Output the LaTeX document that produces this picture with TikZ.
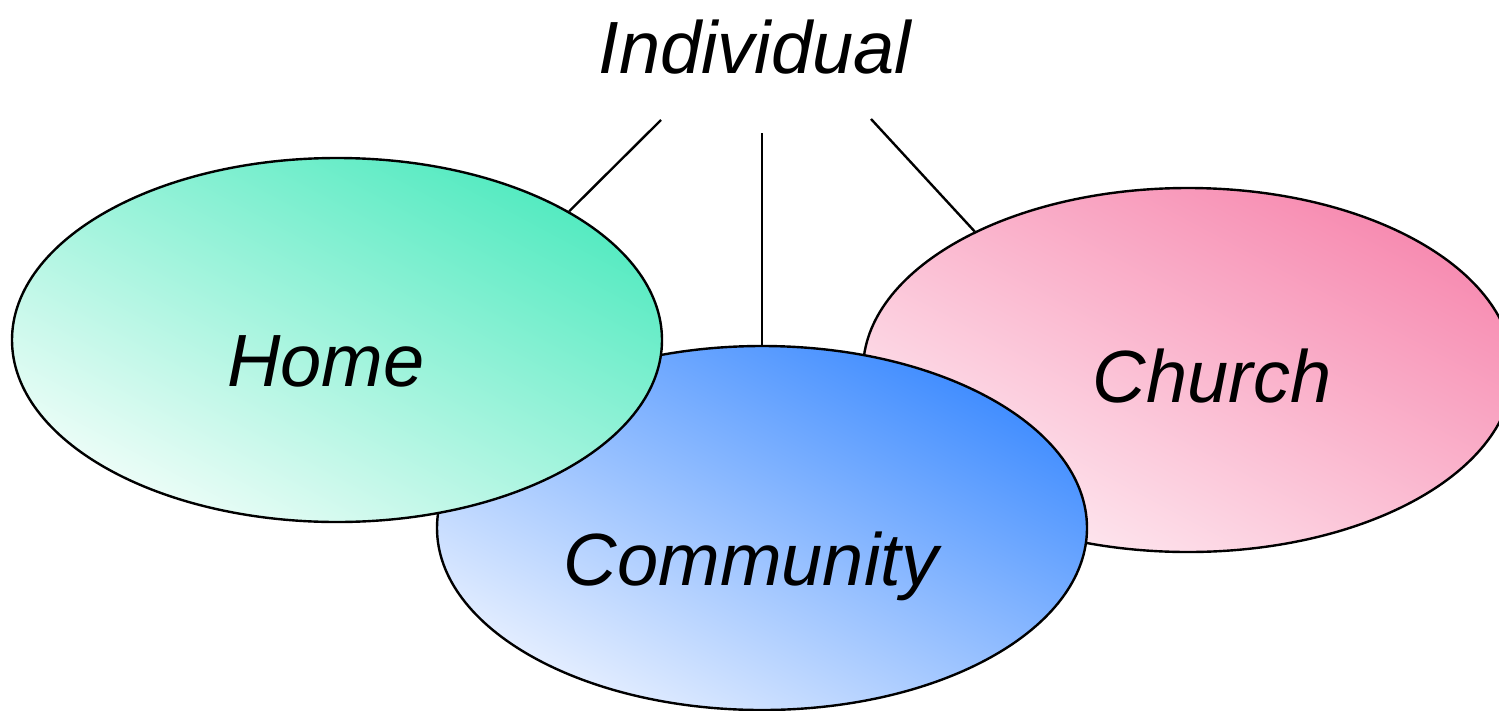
\documentclass[tikz,border=0pt]{standalone}
\usepackage{fontspec}
\setmainfont{Liberation Sans}
\usepackage{tikz}
\usepackage{xcolor}
\usetikzlibrary{shapes.geometric}

\definecolor{homedark}{HTML}{52EAC0}
\definecolor{homelight}{HTML}{EEFDF8}
\definecolor{commdark}{HTML}{3F8CFF}
\definecolor{commlight}{HTML}{E6EFFF}
\definecolor{churchdark}{HTML}{F78AB0}
\definecolor{churchlight}{HTML}{FEEAF1}

\begin{document}
\begin{tikzpicture}[x=1pt, y=-1pt,
  bubble/.style={ellipse, draw, line width=2.4pt, inner sep=0pt,
    minimum width=650pt, minimum height=364pt,
    top color=#1dark, bottom color=#1light, shading angle=-28},
  word/.style={font=\fontsize{74}{88}\selectfont\itshape, inner sep=0pt, anchor=base}]
\useasboundingbox (0,0) rectangle (1499,710);

%Spheres
\node[bubble=church] (church) at (1188,370) {};
\node[bubble=comm] (community) at (762,528) {};
\node[bubble=home] (home) at (337,340) {};

%Links
\coordinate (lhome) at (661,120);
\coordinate (lcomm) at (762,133);
\coordinate (lchurch) at (871,119);
\draw[line width=2.4pt] (lhome) -- (home.29.2);
\draw[line width=2.4pt] (lcomm) -- (community.north);
\draw[line width=2.4pt] (lchurch) -- (church.147.5);

%Labels
\node[word] (individual) at (755,73) {Individual};
\node[word] (homelabel) at (326,386) {Home};
\node[word] (commlabel) at (751,585) {Community};
\node[word] (churchlabel) at (1212,402) {Church};
\end{tikzpicture}
\end{document}
